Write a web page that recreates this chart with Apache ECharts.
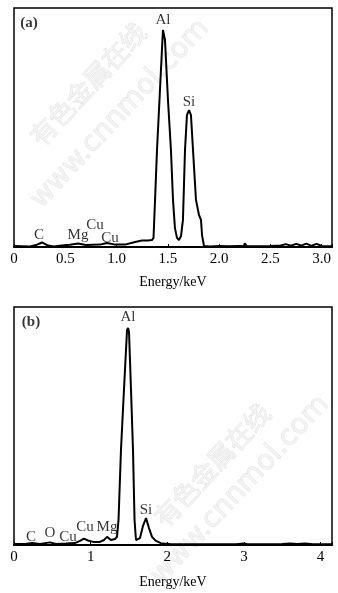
<!DOCTYPE html>
<html>
<head>
<meta charset="utf-8">
<script src="https://cdn.jsdelivr.net/npm/echarts@6/dist/echarts.min.js"></script>
<style>html,body{margin:0;padding:0;background:#fff}#c{width:338px;height:593px}</style>
</head>
<body>
<div id="c"></div>
<script>
// Panel (a) spectrum: [energy keV, relative intensity %]
var spectrumA = [
  [0.00,0.4],[0.156,0.2],[0.214,0.8],[0.273,1.9],[0.331,0.6],[0.390,0.2],[0.468,0.6],
  [0.546,0.9],[0.624,1.5],[0.702,0.8],[0.838,1.0],[0.907,1.7],[0.985,1.0],[1.082,1.0],
  [1.180,2.1],[1.248,2.7],[1.306,2.7],[1.345,2.9],[1.360,3.8],[1.375,19.7],[1.394,40.6],
  [1.423,65.7],[1.452,90.8],[1.472,86.6],[1.501,61.5],[1.530,40.6],[1.550,19.7],[1.569,7.9],
  [1.589,3.8],[1.608,2.9],[1.628,4.6],[1.647,11.3],[1.667,40.6],[1.686,55.2],[1.706,57.3],
  [1.725,55.2],[1.745,40.6],[1.774,19.7],[1.803,13.4],[1.823,11.3],[1.833,5.0],[1.852,0.4],
  [1.911,0.2],[2.0,0.4],[2.1,0.3],[2.2,0.4],[2.24,0.3],[2.25,1.5],[2.27,0.3],[2.4,0.3],
  [2.5,0.4],[2.6,0.6],[2.65,1.2],[2.7,0.5],[2.75,1.3],[2.8,0.6],[2.85,1.4],[2.9,0.5],
  [2.95,1.3],[3.0,0.4],[3.1,0.3]
];
// Panel (b) spectrum
var spectrumB = [
  [0.00,0.4],[0.144,0.4],[0.235,0.8],[0.339,0.4],[0.470,1.1],[0.548,0.4],[0.679,0.6],
  [0.796,0.8],[0.861,1.7],[0.913,2.7],[0.966,1.9],[1.031,1.3],[1.122,1.3],[1.174,2.1],
  [1.214,3.4],[1.266,2.1],[1.318,2.5],[1.344,3.4],[1.364,10.5],[1.396,39.9],[1.435,65.1],
  [1.475,90.3],[1.488,91.2],[1.501,89.5],[1.527,65.1],[1.553,39.9],[1.573,10.5],[1.592,2.1],
  [1.618,1.3],[1.644,2.9],[1.683,8.0],[1.723,11.3],[1.762,7.1],[1.801,3.4],[1.853,1.7],
  [1.931,0.6],[2.036,0.4],[2.5,0.3],[2.9,0.3],[3.0,0.6],[3.05,0.3],[3.5,0.4],[3.6,0.6],
  [3.7,0.4],[3.8,0.6],[3.9,0.3],[4.15,0.3]
];
// Peak labels [text, energy, intensity]
var labelsA = [["(a)",0.146,93.7],["Al",1.452,95.0],["Si",1.706,60.7],["C",0.244,5.0],
  ["Mg",0.624,5.0],["Cu",0.790,9.2],["Cu",0.936,3.8]];
var labelsB = [["(b)",0.222,93.7],["Al",1.488,95.8],["Si",1.723,14.7],["C",0.222,3.4],
  ["O",0.470,5.0],["Cu",0.705,3.4],["Cu",0.927,7.6],["Mg",1.214,7.6]];
var xTicksA = {min:0, max:3.1, interval:0.5};
var xTicksB = {min:0, max:4.15, interval:1};
var axisTitle = "Energy/keV";

var serif = "Liberation Serif";
function fmtA(v){ var k=v*2; if(Math.abs(k-Math.round(k))>1e-6) return ''; return v===0?'0':v.toFixed(1); }
function fmtB(v){ if(Math.abs(v-Math.round(v))>1e-6) return ''; return String(Math.round(v)); }
function xAx(idx, t, fmt, margin, gap){
  return {type:'value', gridIndex:idx, min:t.min, max:t.max, interval:t.interval,
    axisLine:{show:true, lineStyle:{color:'#000', width:2}},
    axisTick:{show:true, inside:true, length:3, lineStyle:{color:'#000'}},
    splitLine:{show:false},
    axisLabel:{formatter:fmt, fontFamily:serif, fontSize:15, color:'#000', margin:margin},
    name:axisTitle, nameLocation:'middle', nameGap:gap,
    nameTextStyle:{fontFamily:serif, fontSize:14, color:'#000'}};
}
function yAx(idx){ return {type:'value', gridIndex:idx, min:0, max:100, show:false}; }
function lab(arr, idx){
  return {type:'scatter', xAxisIndex:idx, yAxisIndex:idx, symbolSize:0, silent:true, z:5,
    data:arr.map(function(d){return {value:[d[1],d[2]], name:d[0],
      label:{fontWeight: d[0].charAt(0)==='(' ? 'bold':'normal'}};}),
    label:{show:true, position:'inside', formatter:function(p){return p.name;},
      fontFamily:serif, fontSize:15, color:'#000'}};
}
function line(arr, idx){
  return {type:'line', xAxisIndex:idx, yAxisIndex:idx, data:arr, symbol:'none', z:4,
    lineStyle:{color:'#000', width:2}, silent:true};
}
function wm(x,y,text,size,family){
  return {type:'text', x:x, y:y, rotation:0.82, z:-10, silent:true,
    style:{text:text, fontSize:size, fontFamily:family, align:'center', verticalAlign:'middle',
      fill:'#f3f3f3', stroke:'#d4d4d4', lineWidth:0.6}};
}
var chart = echarts.init(document.getElementById('c'), null, {renderer:'canvas'});
chart.setOption({
  animation:false,
  backgroundColor:'#fff',
  grid:[
    {left:14, top:8, width:318, height:239, show:true, borderColor:'#000', borderWidth:1.5},
    {left:14, top:307, width:318, height:238, show:true, borderColor:'#000', borderWidth:1.5}
  ],
  xAxis:[xAx(0,xTicksA,fmtA,5,28), xAx(1,xTicksB,fmtB,5,30)],
  yAxis:[yAx(0), yAx(1)],
  graphic:[
    wm(88,84,"有色金属在线",26,"Noto Sans CJK SC"),
    wm(120,114,"www.cnnmol.com",28,"DejaVu Sans"),
    wm(212,465,"有色金属在线",26,"Noto Sans CJK SC"),
    wm(240,490,"www.cnnmol.com",28,"DejaVu Sans")
  ],
  series:[line(spectrumA,0), line(spectrumB,1), lab(labelsA,0), lab(labelsB,1)]
});
</script>
</body>
</html>
